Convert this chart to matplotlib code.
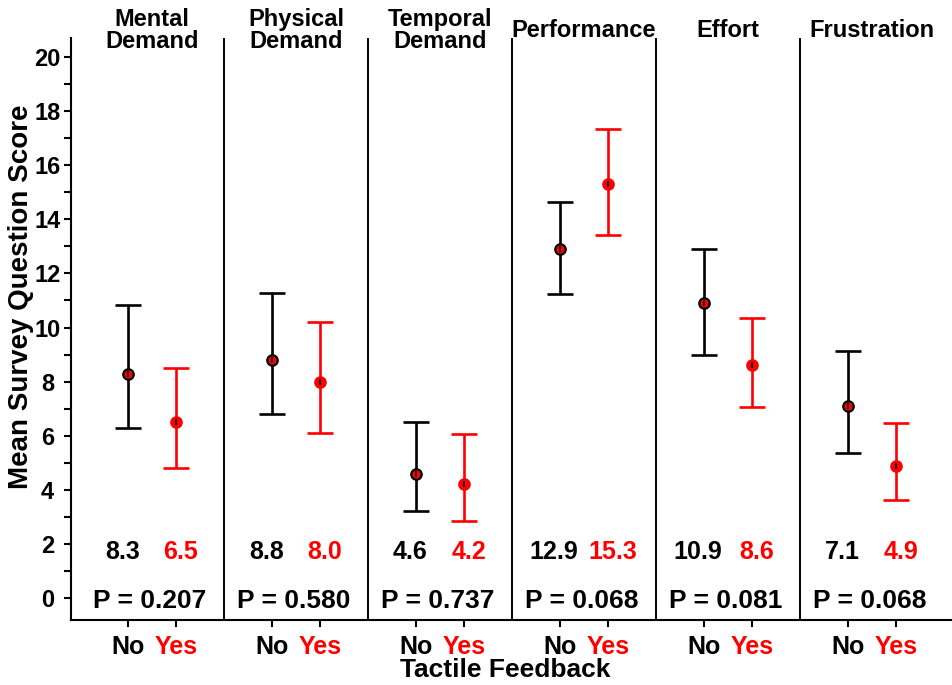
import matplotlib
matplotlib.use('Agg')
import matplotlib.pyplot as plt
import numpy as np

categories = ['Mental\nDemand', 'Physical\nDemand', 'Temporal\nDemand',
              'Performance', 'Effort', 'Frustration']
no_mean = [8.3, 8.8, 4.6, 12.9, 10.9, 7.1]
yes_mean = [6.5, 8.0, 4.2, 15.3, 8.6, 4.9]
no_low = [6.3, 6.8, 3.2, 11.25, 9.0, 5.37]
no_high = [10.85, 11.26, 6.52, 14.65, 12.91, 9.15]
yes_low = [4.8, 6.1, 2.85, 13.42, 7.06, 3.64]
yes_high = [8.52, 10.22, 6.07, 17.32, 10.35, 6.47]
p_values = [0.207, 0.580, 0.737, 0.068, 0.081, 0.068]
group_labels = ['No', 'Yes']

RED = '#ff0000'


def draw_group(ax, x, mean, low, high, color, edge):
    mean = np.array(mean)
    yerr = [mean - np.array(low), np.array(high) - mean]
    ax.errorbar(x, mean, yerr=yerr, fmt='none', ecolor=color,
                elinewidth=1.9, capsize=9.5, capthick=1.9, zorder=2)
    ax.plot(x, mean, 'o', ms=7.5, mfc=RED, mec=edge, mew=1.6, zorder=3)
    ax.plot(x, mean, '|', ms=4, mec='black', mew=1.3, zorder=4)


def plot():
    plt.rcParams['font.family'] = ['Liberation Sans', 'DejaVu Sans']
    plt.rcParams['font.weight'] = 'bold'
    fig = plt.figure(figsize=(9.52, 6.85), dpi=100)
    ax = fig.add_axes([0.0746, 0.0949, 0.9254, 0.8496])

    n = len(categories)
    x_no = np.arange(n) * 3 + 1
    x_yes = x_no + 1

    draw_group(ax, x_no, no_mean, no_low, no_high, 'black', 'black')
    draw_group(ax, x_yes, yes_mean, yes_low, yes_high, RED, RED)

    for i in range(1, n):
        ax.axvline(i * 3, color='black', lw=1.4, zorder=1)

    for i, cat in enumerate(categories):
        two_lines = '\n' in cat
        ax.text(i * 3 + 1.5, 20.98 if two_lines else 20.98, cat,
                ha='center', va='center', fontsize=17, fontweight='bold',
                linespacing=0.9, clip_on=False)
        ax.text(x_no[i] - 0.12, 1.7, f'{no_mean[i]:.1f}', ha='center',
                va='center', fontsize=18, fontweight='bold', color='black')
        ax.text(x_yes[i] + 0.1, 1.7, f'{yes_mean[i]:.1f}', ha='center',
                va='center', fontsize=18, fontweight='bold', color=RED)
        ax.text(i * 3 + 1.45, -0.1, f'P = {p_values[i]:.3f}', ha='center',
                va='center', fontsize=19, fontweight='bold')

    ax.set_xlim(-0.1875, 18.17)
    ax.set_ylim(-0.81, 20.7)
    ax.set_yticks(np.arange(0, 21, 2))
    ax.set_yticks(np.arange(1, 20, 2), minor=True)
    ax.set_yticklabels([str(v) for v in range(0, 21, 2)],
                       fontsize=17, fontweight='bold', ha='center')

    ticks = np.sort(np.concatenate([x_no, x_yes]))
    ax.set_xticks(ticks)
    ax.set_xticklabels(group_labels * n, fontsize=18, fontweight='bold')
    for lab, t in zip(ax.get_xticklabels(), ticks):
        if t in x_yes:
            lab.set_color(RED)

    for side in ['top', 'right']:
        ax.spines[side].set_visible(False)
    for side in ['left', 'bottom']:
        ax.spines[side].set_linewidth(1.5)
    ax.tick_params(axis='both', which='both', direction='out',
                   width=1.5, length=5)
    ax.tick_params(axis='y', which='major', pad=12)
    ax.tick_params(axis='x', which='major', pad=6)

    ax.set_ylabel('Mean Survey Question Score', fontsize=20, fontweight='bold')
    ax.yaxis.set_label_coords(-0.042, 0.555)
    ax.set_xlabel('Tactile Feedback', fontsize=19, fontweight='bold')
    ax.xaxis.set_label_coords(0.493, -0.065)

    fig.savefig('out.png', dpi=100)


def main():
    plot()


main()
